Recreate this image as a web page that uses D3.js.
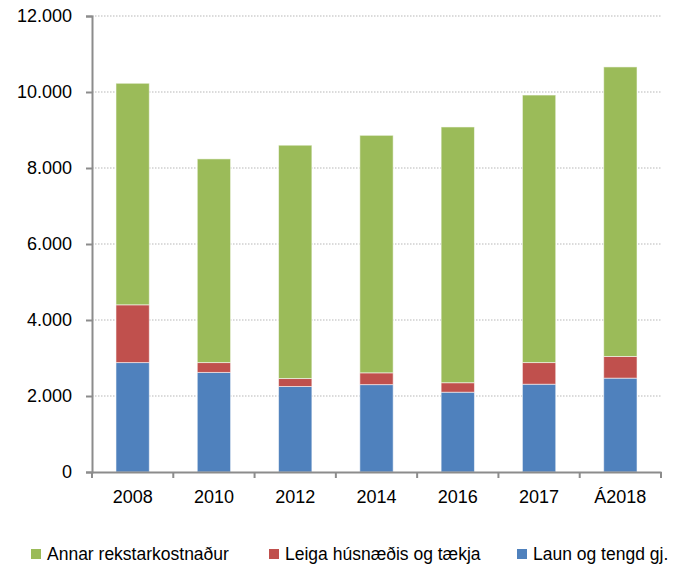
<!DOCTYPE html>
<html>
<head>
<meta charset="utf-8">
<script src="https://cdn.jsdelivr.net/npm/d3@7"></script>
<style>
  body { margin: 0; background: #fff; }
  text { font-family: "Liberation Sans", Arial, sans-serif; fill: #000; }
</style>
</head>
<body>
<script>
// DATA
var years = ["2008", "2010", "2012", "2014", "2016", "2017", "Á2018"];
var laun = [2880, 2620, 2250, 2300, 2100, 2310, 2470];      // Laun og tengd gj.
var leiga = [1520, 260, 210, 310, 250, 570, 570];           // Leiga húsnæðis og tækja
var annar = [5830, 5360, 6140, 6250, 6730, 7040, 7620];     // Annar rekstarkostnaður
var yTicks = [0, 2000, 4000, 6000, 8000, 10000, 12000];

var seriesNames = ["Laun og tengd gj.", "Leiga húsnæðis og tækja", "Annar rekstarkostnaður"];
var colors = {"Laun og tengd gj.": "#4F81BD", "Leiga húsnæðis og tækja": "#C0504D", "Annar rekstarkostnaður": "#9BBB59"};

var rows = years.map(function(y, i) {
  var r = {year: y};
  r[seriesNames[0]] = laun[i];
  r[seriesNames[1]] = leiga[i];
  r[seriesNames[2]] = annar[i];
  return r;
});

var svg = d3.select("body").append("svg")
  .attr("width", 674)
  .attr("height", 571);

const margin = {top: 16, left: 92, right: 13, bottom: 99};
const width = 674 - margin.left - margin.right;
const height = 571 - margin.top - margin.bottom;

const x = d3.scaleBand()
  .domain(years)
  .range([0, width])
  .paddingInner(0.59)
  .paddingOuter(0.295);

const y = d3.scaleLinear()
  .domain([0, 12000])
  .range([height, 0]);

const fmt = d3.formatLocale({decimal: ",", thousands: ".", grouping: [3], currency: ["", ""]}).format(",");

const g = svg.append("g")
  .attr("transform", "translate(" + margin.left + "," + margin.top + ")");

// grid lines
g.append("g").selectAll("line")
  .data(yTicks.filter(function(d) { return d > 0; }))
  .enter().append("line")
  .attr("x1", 0).attr("x2", width)
  .attr("y1", d => y(d)).attr("y2", d => y(d))
  .attr("stroke", "#d0d0d0")
  .attr("stroke-width", 1.5)
  .attr("stroke-dasharray", "1.5,1.5");

// stacked bars
var stack = d3.stack().keys(seriesNames)(rows);

g.append("g").selectAll("g")
  .data(stack)
  .enter().append("g")
  .attr("fill", d => colors[d.key])
  .selectAll("rect")
  .data(d => d)
  .enter().append("rect")
  .attr("x", d => x(d.data.year))
  .attr("y", d => y(d[1]))
  .attr("width", x.bandwidth())
  .attr("height", d => y(d[0]) - y(d[1]))
  .attr("stroke", "#fff")
  .attr("stroke-opacity", 0.55)
  .attr("stroke-width", 1);

// y axis
const yAxis = g.append("g")
  .call(d3.axisLeft(y).tickValues(yTicks).tickSize(6).tickPadding(14).tickFormat(fmt));
yAxis.select(".domain").attr("stroke", "#8c8c8c").attr("stroke-width", 2);
yAxis.selectAll(".tick line").attr("stroke", "#8c8c8c").attr("stroke-width", 2);
yAxis.selectAll("text").attr("font-size", 18).attr("font-family", "Liberation Sans, Arial, sans-serif");

// x axis
const xAxis = g.append("g")
  .attr("transform", "translate(0," + height + ")")
  .call(d3.axisBottom(x).tickSize(0).tickPadding(18));
xAxis.select(".domain").attr("stroke", "#8c8c8c").attr("stroke-width", 2);
xAxis.selectAll("text").attr("font-size", 18).attr("font-family", "Liberation Sans, Arial, sans-serif");

// x tick marks at category boundaries
xAxis.append("g").selectAll("line")
  .data(d3.range(years.length + 1))
  .enter().append("line")
  .attr("x1", d => d * x.step()).attr("x2", d => d * x.step())
  .attr("y1", 0).attr("y2", 6)
  .attr("stroke", "#8c8c8c")
  .attr("stroke-width", 2);

// legend
var legendItems = ["Annar rekstarkostnaður", "Leiga húsnæðis og tækja", "Laun og tengd gj."];
var legendX = [31, 269, 517];

const legend = svg.append("g").attr("transform", "translate(0,554)");
legendItems.forEach(function(name, i) {
  var item = legend.append("g").attr("transform", "translate(" + legendX[i] + ",0)");
  item.append("rect")
    .attr("x", 0).attr("y", -5)
    .attr("width", 10).attr("height", 10)
    .attr("fill", colors[name]);
  item.append("text")
    .attr("x", 16).attr("y", 0)
    .attr("dy", "0.35em")
    .attr("font-size", 17.5)
    .text(name);
});
</script>
</body>
</html>
